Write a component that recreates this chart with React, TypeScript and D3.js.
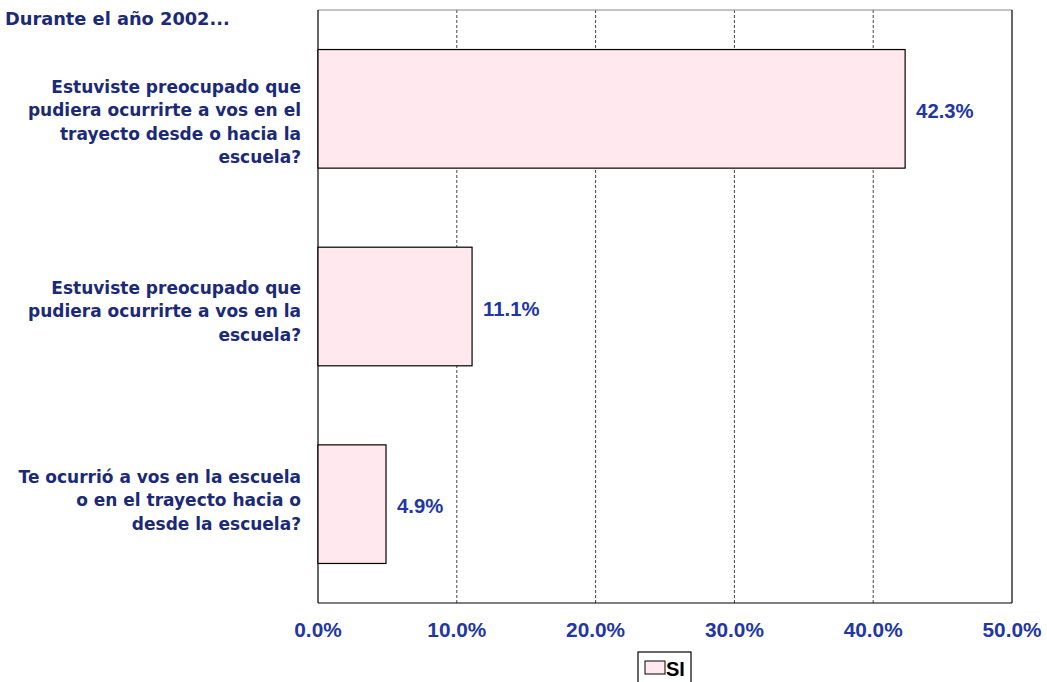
import * as d3 from "d3"
import React from "react"

// data
const categories = [
  ["Estuviste preocupado que", "pudiera ocurrirte a vos en el", "trayecto desde o hacia la", "escuela?"],
  ["Estuviste preocupado que", "pudiera ocurrirte a vos en la", "escuela?"],
  ["Te ocurrió a vos en la escuela", "o en el trayecto hacia o", "desde la escuela?"],
]
const values = [42.3, 11.1, 4.9]
const ticks = [0, 10, 20, 30, 40, 50]
const seriesName = "SI"
const title = "Durante el año 2002..."

const W = 1047
const H = 682
const margin = { left: 318, right: 35, top: 10, bottom: 79 }
const FONT = "'DejaVu Sans', sans-serif"
const NUMFONT = "'Liberation Sans', Arial, sans-serif"
const LABEL_COLOR = "#1b2a78"
const BLUE = "#2236a6"

function App() {
  const x = d3.scaleLinear()
    .domain([0, 50])
    .range([margin.left, W - margin.right])

  const y = d3.scaleBand()
    .domain(categories.map((_, i) => String(i)))
    .range([margin.top, H - margin.bottom])
    .paddingInner(0.4)
    .paddingOuter(0.2)

  // category text blocks sit a bit more spread than the bars (as in the original)
  const yLabel = d3.scalePoint()
    .domain(categories.map((_, i) => String(i)))
    .range([123, 501])

  const top = margin.top
  const bottom = H - margin.bottom
  const lh = 23.5
  const fmt = d3.format(".1f")

  return (
    <svg width={W} height={H} style={{ position: "absolute", left: 0, top: 0, background: "#fff" }}>
      <text x={5} y={25} fontFamily={FONT} fontWeight="bold" fontSize={17.8} fill={LABEL_COLOR}>{title}</text>

      {/* gridlines */}
      {ticks.slice(1, -1).map(t => (
        <line key={t} x1={x(t)} x2={x(t)} y1={top} y2={bottom}
          stroke="#444" strokeWidth={1} strokeDasharray="3,2" />
      ))}

      {/* plot frame */}
      <line x1={x(0)} x2={x(50)} y1={top} y2={top} stroke="#888" strokeWidth={1.2} />
      <line x1={x(0)} x2={x(50)} y1={bottom} y2={bottom} stroke="#000" strokeWidth={1.2} />
      <line x1={x(0)} x2={x(0)} y1={top} y2={bottom} stroke="#000" strokeWidth={1.2} />
      <line x1={x(50)} x2={x(50)} y1={top} y2={bottom} stroke="#000" strokeWidth={1.2} />

      {/* bars */}
      {values.map((v, i) => (
        <g key={i}>
          <rect x={x(0)} y={y(String(i))} width={x(v) - x(0)} height={y.bandwidth()}
            fill="#ffe9ee" stroke="#000" strokeWidth={1.2} />
          <text x={x(v) + 11} y={y(String(i))! + y.bandwidth() / 2 + 9}
            fontFamily={NUMFONT} fontWeight="bold" fontSize={20.3} fill={BLUE}>
            {fmt(v) + "%"}
          </text>
        </g>
      ))}

      {/* category labels */}
      {categories.map((lines, i) => {
        const cy = yLabel(String(i))!
        const y0 = cy - (lines.length - 1) / 2 * lh
        return (
          <text key={i} textAnchor="end" fontFamily={FONT} fontWeight="bold" fontSize={17} fill={LABEL_COLOR}>
            {lines.map((l, j) => (
              <tspan key={j} x={301} y={y0 + j * lh} dominantBaseline="middle">{l}</tspan>
            ))}
          </text>
        )
      })}

      {/* x ticks */}
      {ticks.map(t => (
        <text key={t} x={x(t)} y={bottom + 34} textAnchor="middle"
          fontFamily={NUMFONT} fontWeight="bold" fontSize={20.8} fill={BLUE}>
          {fmt(t) + "%"}
        </text>
      ))}

      {/* legend */}
      <rect x={638} y={652} width={53} height={34} fill="#fff" stroke="#000" strokeWidth={1.2} />
      <rect x={645} y={661} width={20} height={13} fill="#ffe9ee" stroke="#000" strokeWidth={1} />
      <text x={666} y={676} fontFamily="'Liberation Sans Narrow', 'Liberation Sans', sans-serif" fontWeight="bold" fontSize={20} fill="#000">{seriesName}</text>
    </svg>
  )
}

export default App
